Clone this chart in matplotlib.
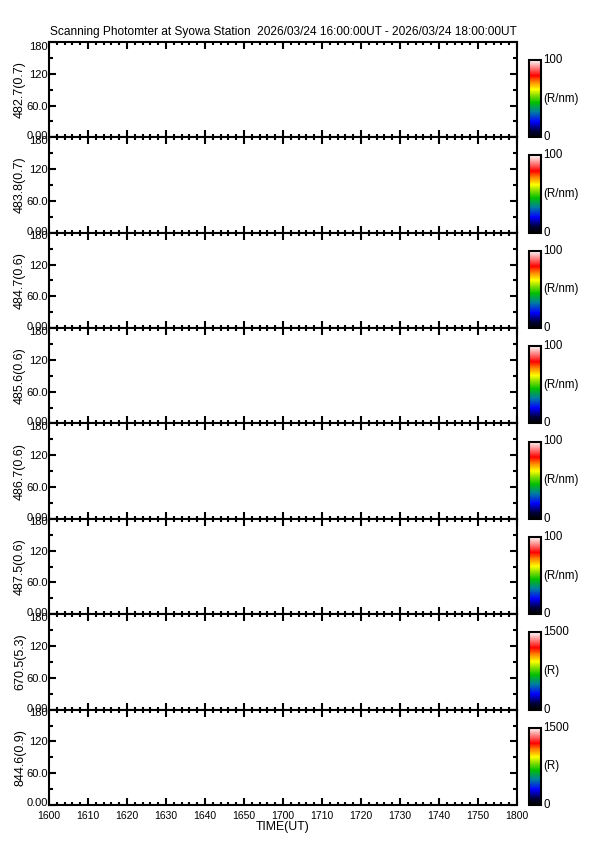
# -*- coding: utf-8 -*-

import matplotlib as mpl
mpl.use("Agg")
import matplotlib.pyplot as plt
from matplotlib.colors import LinearSegmentedColormap
from matplotlib.transforms import ScaledTranslation
from matplotlib.ticker import MultipleLocator, FixedLocator, FixedFormatter

# ============================================================================
# DATA
# ============================================================================

TITLE = ("Scanning Photomter at Syowa Station  "
         "2026/03/24 16:00:00UT - 2026/03/24 18:00:00UT")

channels = ["482.7(0.7)", "483.8(0.7)", "484.7(0.6)", "485.6(0.6)",
            "486.7(0.6)", "487.5(0.6)", "670.5(5.3)", "844.6(0.9)"]
cbar_max = [100, 100, 100, 100, 100, 100, 1500, 1500]
cbar_units = ["(R/nm)", "(R/nm)", "(R/nm)", "(R/nm)",
              "(R/nm)", "(R/nm)", "(R)", "(R)"]

# minutes after 16:00 UT
time_ticks = [0, 10, 20, 30, 40, 50, 60, 70, 80, 90, 100, 110, 120]
time_labels = ["1600", "1610", "1620", "1630", "1640", "1650", "1700",
               "1710", "1720", "1730", "1740", "1750", "1800"]

y_ticks = [0, 60, 120, 180]
y_labels = ["0.00", "60.0", "120", "180"]

# ============================================================================
# STYLE
# ============================================================================

FIG_W, FIG_H = 595, 842
DPI = 100
TICK_FONT = 7.5
YTICK_FONT = 8.0
TITLE_FONT = 8.6
YLABEL_FONT = 9.0
CB_FONT = 8.3
XLABEL_FONT = 8.8
LW = 1.5

LEFT_PX, RIGHT_PX = 49, 517
TOP_PX, BOTTOM_PX = 42, 805
CB_LEFT_PX, CB_RIGHT_PX = 529, 541
CB_TOP_OFFSET = 18
YLABEL_X = -0.049

mpl.rcParams["font.family"] = ["Liberation Sans", "DejaVu Sans"]
mpl.rcParams["font.size"] = TICK_FONT

cmap = LinearSegmentedColormap.from_list("photometer", [
    (0.00, "#000000"),
    (0.08, "#00003a"),
    (0.20, "#0000ff"),
    (0.33, "#0080a0"),
    (0.45, "#00c000"),
    (0.55, "#90e000"),
    (0.62, "#ffff00"),
    (0.72, "#ff8000"),
    (0.80, "#ff0000"),
    (0.90, "#ff8080"),
    (1.00, "#ffffff"),
])


def fx(px):
    return px / FIG_W


def fy(py):
    return 1.0 - py / FIG_H


def shift_label(label, dy_px):
    off = ScaledTranslation(0, dy_px / DPI, fig.dpi_scale_trans)
    label.set_transform(label.get_transform() + off)


# ============================================================================
# FIGURE
# ============================================================================

fig = plt.figure(figsize=(FIG_W / DPI, FIG_H / DPI), dpi=DPI)
fig.patch.set_facecolor("w")

n = len(channels)
panel_h = (BOTTOM_PX - TOP_PX) / n

for i in range(n):
    top = TOP_PX + i * panel_h
    ax = fig.add_axes([fx(LEFT_PX), fy(top + panel_h),
                       fx(RIGHT_PX) - fx(LEFT_PX), panel_h / FIG_H])
    ax.set_xlim(0, 120)
    ax.set_ylim(0, 180)

    for s in ax.spines.values():
        s.set_linewidth(LW)

    ax.xaxis.set_major_locator(FixedLocator(time_ticks))
    ax.xaxis.set_minor_locator(MultipleLocator(2))
    ax.yaxis.set_major_locator(FixedLocator(y_ticks))
    ax.yaxis.set_major_formatter(FixedFormatter(y_labels))
    ax.yaxis.set_minor_locator(MultipleLocator(30))

    ax.tick_params(which="both", direction="in", top=True, right=True,
                   width=LW)
    ax.tick_params(which="major", length=5, pad=1)
    ax.tick_params(which="minor", length=2.5)
    ax.tick_params(axis="y", which="minor", length=3)
    ax.tick_params(axis="y", labelsize=YTICK_FONT)
    ax.tick_params(axis="x", labelsize=TICK_FONT)

    if i == n - 1:
        ax.xaxis.set_major_formatter(FixedFormatter(time_labels))
        ax.tick_params(axis="x", pad=4)
        ax.set_xlabel("TIME(UT)", fontsize=XLABEL_FONT, labelpad=0)
    else:
        ax.set_xticklabels([])

    # end labels nudged into the panel; neighbours overlap like the original
    yt = ax.yaxis.get_major_ticks()
    shift_label(yt[0].label1, 3.5 if i == n - 1 else 2.0)
    shift_label(yt[-1].label1, -4.0 if i == 0 else -2.5)

    ax.set_ylabel(channels[i], fontsize=YLABEL_FONT)
    ax.yaxis.set_label_coords(YLABEL_X, 0.5)

    # colour bar next to each panel
    cb_top = top + CB_TOP_OFFSET
    cb_bot = top + panel_h
    cax = fig.add_axes([fx(CB_LEFT_PX), fy(cb_bot),
                        fx(CB_RIGHT_PX) - fx(CB_LEFT_PX),
                        (cb_bot - cb_top) / FIG_H])
    norm = mpl.colors.Normalize(vmin=0, vmax=cbar_max[i])
    cb = fig.colorbar(mpl.cm.ScalarMappable(norm=norm, cmap=cmap), cax=cax)
    cb.outline.set_linewidth(LW)
    cb.set_ticks([])
    cax.text(1.2, 1.0, str(cbar_max[i]), transform=cax.transAxes,
             ha="left", va="center", fontsize=CB_FONT)
    cax.text(1.2, 0.0, "0", transform=cax.transAxes,
             ha="left", va="center", fontsize=CB_FONT)
    cax.text(1.15, 0.5, cbar_units[i], transform=cax.transAxes,
             ha="left", va="center", fontsize=CB_FONT)

fig.text(fx((LEFT_PX + RIGHT_PX) / 2), fy(32), TITLE,
         ha="center", va="center", fontsize=TITLE_FONT)

fig.savefig("out.png", dpi=DPI)
plt.close(fig)
